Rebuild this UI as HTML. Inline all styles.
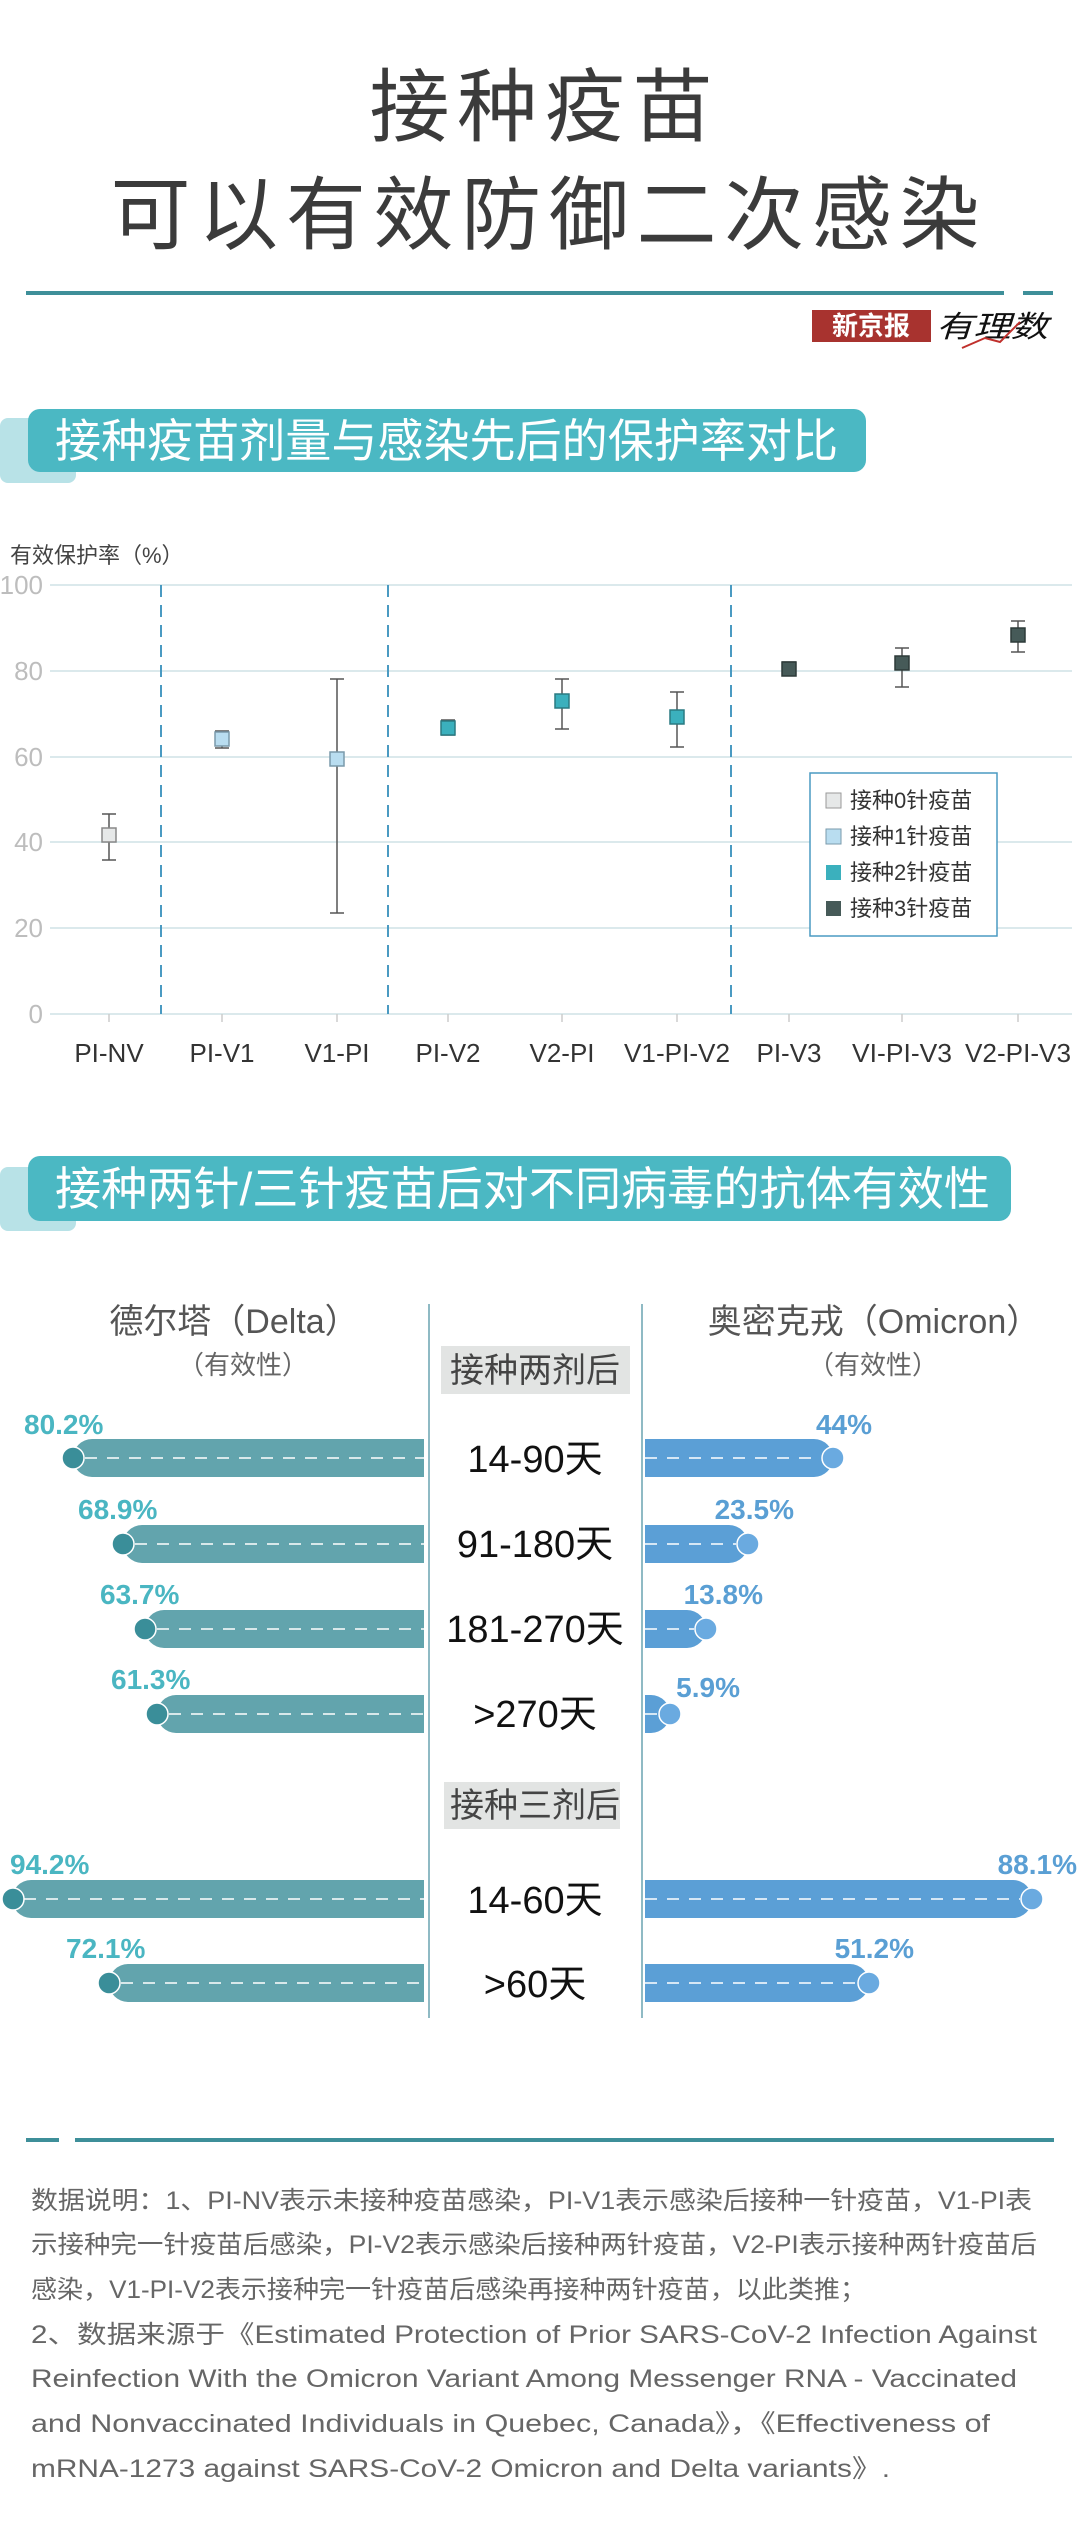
<!DOCTYPE html>
<html><head><meta charset="utf-8"><style>
html,body{margin:0;padding:0;background:#fff}
svg{display:block}
text{font-family:"Liberation Sans","Noto Sans CJK SC",sans-serif}
</style></head><body>
<svg width="1080" height="2525" viewBox="0 0 1080 2525" xmlns="http://www.w3.org/2000/svg">
<rect width="1080" height="2525" fill="#fff"/>
<text x="541" y="135" font-size="80" fill="#3b3b3b" text-anchor="middle" textLength="343" lengthAdjust="spacing">接种疫苗</text>
<text x="545" y="243" font-size="80" fill="#3b3b3b" text-anchor="middle" textLength="869" lengthAdjust="spacing">可以有效防御二次感染</text>
<rect x="26" y="291" width="978" height="4" fill="#3e8f99"/>
<rect x="1023" y="291" width="30" height="4" fill="#3e8f99"/>
<rect x="812" y="310" width="119" height="32" fill="#a8332f"/>
<text x="871" y="335" font-size="26" fill="#fff" text-anchor="middle" font-family="Noto Serif CJK SC,serif" font-weight="bold">新京报</text>
<text x="936" y="337" font-size="30" fill="#111" font-style="italic" textLength="112" lengthAdjust="spacingAndGlyphs">有理数</text>
<path d="M962 348 L985 338 L1000 342 L1020 322" stroke="#c0302c" stroke-width="2" fill="none"/>
<rect x="0" y="418" width="76" height="65" rx="8" fill="#b8e2e7"/>
<rect x="28" y="409" width="838" height="63" rx="12" fill="#4bb8c3"/>
<text x="55" y="457" font-size="46" fill="#fff" textLength="783" lengthAdjust="spacingAndGlyphs">接种疫苗剂量与感染先后的保护率对比</text>
<text x="10" y="563" font-size="22" fill="#444">有效保护率（%）</text>
<g stroke="#dbe9ec" stroke-width="2">
<line x1="50" y1="585" x2="1072" y2="585"/>
<line x1="50" y1="671" x2="1072" y2="671"/>
<line x1="50" y1="757" x2="1072" y2="757"/>
<line x1="50" y1="842" x2="1072" y2="842"/>
<line x1="50" y1="928" x2="1072" y2="928"/>
<line x1="50" y1="1014" x2="1072" y2="1014"/>
</g>
<g font-size="26" fill="#bdbdbd" text-anchor="end">
<text x="43" y="594">100</text><text x="43" y="680">80</text><text x="43" y="766">60</text><text x="43" y="851">40</text><text x="43" y="937">20</text><text x="43" y="1023">0</text>
</g>
<g stroke="#4a9ac2" stroke-width="2" stroke-dasharray="12,8">
<line x1="161" y1="585" x2="161" y2="1014"/>
<line x1="388" y1="585" x2="388" y2="1014"/>
<line x1="731" y1="585" x2="731" y2="1014"/>
</g>
<g stroke="#ccc" stroke-width="1.5">
<line x1="109" y1="1014" x2="109" y2="1022"/><line x1="222" y1="1014" x2="222" y2="1022"/><line x1="337" y1="1014" x2="337" y2="1022"/><line x1="448" y1="1014" x2="448" y2="1022"/><line x1="562" y1="1014" x2="562" y2="1022"/><line x1="677" y1="1014" x2="677" y2="1022"/><line x1="789" y1="1014" x2="789" y2="1022"/><line x1="902" y1="1014" x2="902" y2="1022"/><line x1="1018" y1="1014" x2="1018" y2="1022"/>
</g>
<g font-size="26" fill="#333" text-anchor="middle">
<text x="109" y="1062">PI-NV</text><text x="222" y="1062">PI-V1</text><text x="337" y="1062">V1-PI</text><text x="448" y="1062">PI-V2</text><text x="562" y="1062">V2-PI</text><text x="677" y="1062" textLength="106" lengthAdjust="spacingAndGlyphs">V1-PI-V2</text><text x="789" y="1062">PI-V3</text><text x="902" y="1062" textLength="100" lengthAdjust="spacingAndGlyphs">VI-PI-V3</text><text x="1018" y="1062" textLength="106" lengthAdjust="spacingAndGlyphs">V2-PI-V3</text>
</g>
<g stroke="#555" stroke-width="1.5">
<line x1="109" y1="814" x2="109" y2="860"/><line x1="102" y1="814" x2="116" y2="814"/><line x1="102" y1="860" x2="116" y2="860"/>
<line x1="222" y1="731" x2="222" y2="748"/><line x1="215" y1="731" x2="229" y2="731"/><line x1="215" y1="748" x2="229" y2="748"/>
<line x1="337" y1="679" x2="337" y2="913"/><line x1="330" y1="679" x2="344" y2="679"/><line x1="330" y1="913" x2="344" y2="913"/>
<line x1="448" y1="720" x2="448" y2="735"/><line x1="441" y1="720" x2="455" y2="720"/><line x1="441" y1="735" x2="455" y2="735"/>
<line x1="562" y1="679" x2="562" y2="729"/><line x1="555" y1="679" x2="569" y2="679"/><line x1="555" y1="729" x2="569" y2="729"/>
<line x1="677" y1="692" x2="677" y2="747"/><line x1="670" y1="692" x2="684" y2="692"/><line x1="670" y1="747" x2="684" y2="747"/>
<line x1="789" y1="662" x2="789" y2="675"/><line x1="782" y1="662" x2="796" y2="662"/><line x1="782" y1="675" x2="796" y2="675"/>
<line x1="902" y1="648" x2="902" y2="687"/><line x1="895" y1="648" x2="909" y2="648"/><line x1="895" y1="687" x2="909" y2="687"/>
<line x1="1018" y1="621" x2="1018" y2="652"/><line x1="1011" y1="621" x2="1025" y2="621"/><line x1="1011" y1="652" x2="1025" y2="652"/>
</g>
<g stroke-width="1.5">
<rect x="102" y="828" width="14" height="14" fill="#e6e8e8" stroke="#888"/>
<rect x="215" y="732" width="14" height="14" fill="#b9ddf0" stroke="#7a9aab"/>
<rect x="330" y="752" width="14" height="14" fill="#b9ddf0" stroke="#7a9aab"/>
<rect x="441" y="721" width="14" height="14" fill="#3bb0bd" stroke="#2a7a82"/>
<rect x="555" y="694" width="14" height="14" fill="#3bb0bd" stroke="#2a7a82"/>
<rect x="670" y="710" width="14" height="14" fill="#3bb0bd" stroke="#2a7a82"/>
<rect x="782" y="662" width="14" height="14" fill="#465a58" stroke="#2d3a39"/>
<rect x="895" y="656" width="14" height="14" fill="#465a58" stroke="#2d3a39"/>
<rect x="1011" y="628" width="14" height="14" fill="#465a58" stroke="#2d3a39"/>
</g>
<rect x="810" y="773" width="187" height="163" fill="#fff" stroke="#4a9ac2" stroke-width="1.5"/>
<rect x="826" y="793" width="15" height="15" fill="#e6e8e8" stroke="#999"/>
<rect x="826" y="829" width="15" height="15" fill="#b9ddf0" stroke="#7a9aab"/>
<rect x="826" y="865" width="15" height="15" fill="#3bb0bd"/>
<rect x="826" y="901" width="15" height="15" fill="#465a58"/>
<g font-size="22" fill="#333">
<text x="850" y="808">接种0针疫苗</text><text x="850" y="844">接种1针疫苗</text><text x="850" y="880">接种2针疫苗</text><text x="850" y="916">接种3针疫苗</text>
</g>
<rect x="0" y="1167" width="76" height="64" rx="8" fill="#b8e2e7"/>
<rect x="28" y="1156" width="983" height="65" rx="12" fill="#4bb8c3"/>
<text x="55" y="1205" font-size="46" fill="#fff" textLength="935" lengthAdjust="spacingAndGlyphs">接种两针/三针疫苗后对不同病毒的抗体有效性</text>
<text x="234" y="1333" font-size="34" fill="#555" text-anchor="middle">德尔塔（Delta）</text>
<text x="243" y="1374" font-size="26" fill="#666" text-anchor="middle">（有效性）</text>
<text x="874" y="1333" font-size="34" fill="#555" text-anchor="middle">奥密克戎（Omicron）</text>
<text x="873" y="1374" font-size="26" fill="#666" text-anchor="middle">（有效性）</text>
<rect x="441" y="1346" width="189" height="48" fill="#e2e4e3"/>
<text x="535" y="1382" font-size="34" fill="#444" text-anchor="middle">接种两剂后</text>
<rect x="441" y="1782" width="189" height="47" fill="#e2e4e3"/>
<text x="535" y="1817" font-size="34" fill="#444" text-anchor="middle">接种三剂后</text>
<g fill="#62a4ad">
<rect x="73" y="1439" width="370" height="38" rx="19"/>
<rect x="123" y="1525" width="320" height="38" rx="19"/>
<rect x="145" y="1610" width="298" height="38" rx="19"/>
<rect x="157" y="1695" width="286" height="38" rx="19"/>
<rect x="12" y="1880" width="431" height="38" rx="19"/>
<rect x="109" y="1964" width="334" height="38" rx="19"/>
</g>
<rect x="424" y="1430" width="20" height="600" fill="#fff"/>
<g fill="#5b9fd6">
<rect x="625" y="1439" width="208" height="38" rx="19"/>
<rect x="625" y="1525" width="123" height="38" rx="19"/>
<rect x="625" y="1610" width="81" height="38" rx="19"/>
<rect x="625" y="1695" width="45" height="38" rx="19"/>
<rect x="625" y="1880" width="407" height="38" rx="19"/>
<rect x="625" y="1964" width="244" height="38" rx="19"/>
</g>
<rect x="620" y="1430" width="25" height="600" fill="#fff"/>
<line x1="429" y1="1304" x2="429" y2="2018" stroke="#8fbac4" stroke-width="2"/>
<line x1="642" y1="1304" x2="642" y2="2018" stroke="#8fbac4" stroke-width="2"/>
<g stroke="#fff" stroke-width="1.5" stroke-dasharray="12,10">
<line x1="85" y1="1458" x2="424" y2="1458"/><line x1="135" y1="1544" x2="424" y2="1544"/><line x1="157" y1="1629" x2="424" y2="1629"/><line x1="169" y1="1714" x2="424" y2="1714"/><line x1="24" y1="1899" x2="424" y2="1899"/><line x1="121" y1="1983" x2="424" y2="1983"/>
<line x1="645" y1="1458" x2="821" y2="1458"/><line x1="645" y1="1544" x2="736" y2="1544"/><line x1="645" y1="1629" x2="694" y2="1629"/><line x1="645" y1="1714" x2="658" y2="1714"/><line x1="645" y1="1899" x2="1020" y2="1899"/><line x1="645" y1="1983" x2="857" y2="1983"/>
</g>
<g fill="#3a8e99" stroke="#fff" stroke-width="1.5">
<circle cx="73" cy="1458" r="11"/><circle cx="123" cy="1544" r="11"/><circle cx="145" cy="1629" r="11"/><circle cx="157" cy="1714" r="11"/><circle cx="13" cy="1899" r="11"/><circle cx="109" cy="1983" r="11"/>
</g>
<g fill="#6aaae0" stroke="#fff" stroke-width="1.5">
<circle cx="833" cy="1458" r="11"/><circle cx="748" cy="1544" r="11"/><circle cx="706" cy="1629" r="11"/><circle cx="670" cy="1714" r="11"/><circle cx="1032" cy="1899" r="11"/><circle cx="869" cy="1983" r="11"/>
</g>
<g font-size="28" fill="#4ab6c2" font-weight="bold">
<text x="24" y="1434">80.2%</text><text x="78" y="1519">68.9%</text><text x="100" y="1604">63.7%</text><text x="111" y="1689">61.3%</text><text x="10" y="1874">94.2%</text><text x="66" y="1958">72.1%</text>
</g>
<g font-size="28" fill="#5a9fd4" font-weight="bold" text-anchor="end">
<text x="872" y="1434">44%</text><text x="794" y="1519">23.5%</text><text x="763" y="1604">13.8%</text><text x="740" y="1697">5.9%</text><text x="1077" y="1874">88.1%</text><text x="914" y="1958">51.2%</text>
</g>
<g font-size="38" fill="#111" text-anchor="middle">
<text x="535" y="1472">14-90天</text><text x="535" y="1557">91-180天</text><text x="535" y="1642">181-270天</text><text x="535" y="1727">&gt;270天</text><text x="535" y="1913">14-60天</text><text x="535" y="1997">&gt;60天</text>
</g>
<rect x="26" y="2138" width="33" height="4" fill="#3e8f99"/>
<rect x="75" y="2138" width="979" height="4" fill="#3e8f99"/>
<g font-size="25" fill="#666">
<text x="31" y="2209" textLength="1001" lengthAdjust="spacingAndGlyphs">数据说明：1、PI-NV表示未接种疫苗感染，PI-V1表示感染后接种一针疫苗，V1-PI表</text>
<text x="31" y="2253" textLength="1006" lengthAdjust="spacingAndGlyphs">示接种完一针疫苗后感染，PI-V2表示感染后接种两针疫苗，V2-PI表示接种两针疫苗后</text>
<text x="31" y="2298" textLength="835" lengthAdjust="spacingAndGlyphs">感染，V1-PI-V2表示接种完一针疫苗后感染再接种两针疫苗，以此类推；</text>
<text x="31" y="2343" textLength="1006" lengthAdjust="spacingAndGlyphs">2、数据来源于《Estimated Protection of Prior SARS-CoV-2 Infection Against</text>
<text x="31" y="2387" textLength="986" lengthAdjust="spacingAndGlyphs">Reinfection With the Omicron Variant Among Messenger RNA - Vaccinated</text>
<text x="31" y="2432" textLength="959" lengthAdjust="spacingAndGlyphs">and Nonvaccinated Individuals in Quebec, Canada》，《Effectiveness of</text>
<text x="31" y="2477" textLength="859" lengthAdjust="spacingAndGlyphs">mRNA-1273 against SARS-CoV-2 Omicron and Delta variants》.</text>
</g>
</svg>
</body></html>
